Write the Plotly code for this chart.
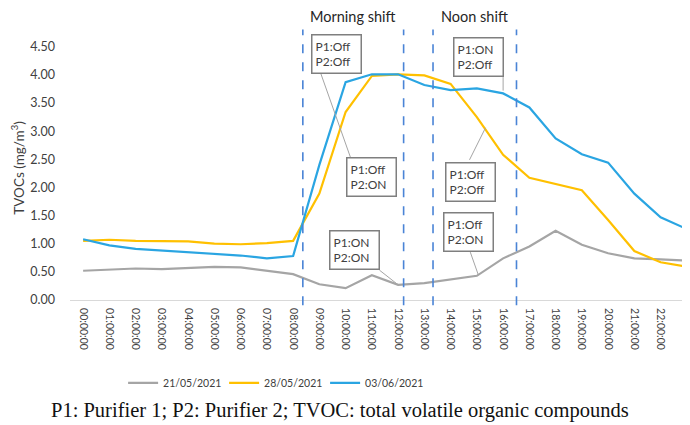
import plotly.graph_objects as go

# --- data ---
hours = [f"{h:02d}:00:00" for h in range(24)]

tvoc_2105 = [0.52, 0.54, 0.56, 0.55, 0.57, 0.59, 0.58, 0.52, 0.46, 0.28, 0.21, 0.44,
             0.27, 0.30, 0.37, 0.43, 0.74, 0.95, 1.23, 0.98, 0.83, 0.74, 0.72, 0.70]
tvoc_2805 = [1.05, 1.07, 1.05, 1.04, 1.04, 1.00, 0.99, 1.01, 1.05, 1.89, 3.34, 3.98,
             4.01, 3.99, 3.84, 3.25, 2.58, 2.17, 2.06, 1.95, 1.42, 0.87, 0.67, 0.59]
tvoc_0306 = [1.08, 0.97, 0.91, 0.88, 0.85, 0.82, 0.79, 0.74, 0.78, 2.40, 3.87, 4.01,
             4.01, 3.82, 3.73, 3.76, 3.67, 3.42, 2.87, 2.59, 2.44, 1.89, 1.47, 1.26]

series_names = ["21/05/2021", "28/05/2021", "03/06/2021"]
series_values = [tvoc_2105, tvoc_2805, tvoc_0306]
series_colors = ["#A5A5A5", "#FFC000", "#2AA5E2"]

# shift boundaries (hour position on the axis)
shift_lines = [8.37, 12.21, 13.33, 16.51]
shift_labels = [("Morning shift", 10.29), ("Noon shift", 14.92)]

# callout boxes: text, x, y
callouts = [
    ("P1:Off<br>P2:Off", 9.67, 4.37),
    ("P1:Off<br>P2:ON", 11.0, 2.18),
    ("P1:ON<br>P2:ON", 10.32, 0.88),
    ("P1:ON<br>P2:Off", 15.06, 4.31),
    ("P1:Off<br>P2:Off", 14.74, 2.10),
    ("P1:Off<br>P2:ON", 14.70, 1.20),
]
# leader lines: x0, y0, x1, y1
leaders = [
    (9.05, 4.03, 10.18, 2.54),
    (11.29, 0.53, 12.0, 0.27),
    (16.0, 3.96, 16.0, 3.72),
    (14.72, 2.49, 15.33, 3.06),
    (14.75, 0.85, 15.06, 0.44),
]

FONT = "Lato, sans-serif"
TEXT = "#404040"

fig = go.Figure()

for name, vals, col in zip(series_names, series_values, series_colors):
    fig.add_trace(go.Scatter(
        x=list(range(24)), y=vals, name=name, mode="lines",
        line=dict(color=col, width=2.2),
    ))

for x in shift_lines:
    fig.add_shape(type="line", xref="x", yref="paper", x0=x, x1=x, y0=-0.02, y1=1.025,
                  line=dict(color="#4A84D6", width=1.6, dash="dash"))

for x0, y0, x1, y1 in leaders:
    fig.add_shape(type="line", xref="x", yref="y", x0=x0, y0=y0, x1=x1, y1=y1,
                  line=dict(color="#A5A5A5", width=1))

for txt, x in shift_labels:
    fig.add_annotation(text=txt, x=x, xref="x", y=1.072, yref="paper", yanchor="middle",
                       showarrow=False, font=dict(family=FONT, size=14.5, color="#262626"))

for txt, x, y in callouts:
    fig.add_annotation(text=txt, x=x, y=y, xref="x", yref="y", showarrow=False,
                       align="left", width=42, height=31, borderpad=3,
                       bgcolor="white", bordercolor="#7F7F7F", borderwidth=1.5,
                       font=dict(family=FONT, size=12, color=TEXT))

fig.add_annotation(text="P1: Purifier 1; P2: Purifier 2; TVOC: total volatile organic compounds",
                   x=0.435, y=-0.42, xref="paper", yref="paper", yanchor="middle",
                   showarrow=False,
                   font=dict(family="Liberation Serif, serif", size=20.5, color="#111111"))

# page body adds ~8px offset, so figure is sized to fit the window
fig.update_layout(
    width=682, height=417,
    margin=dict(l=62, r=0, t=28, b=125, autoexpand=False),
    paper_bgcolor="white", plot_bgcolor="white",
    font=dict(family=FONT, color=TEXT, size=12),
    legend=dict(orientation="h", x=0.33, xanchor="center", y=-0.314, yanchor="middle",
                font=dict(size=10.5, color=TEXT), itemwidth=30,
                entrywidth=56, entrywidthmode="pixels"),
    xaxis=dict(
        tickvals=list(range(24)), ticktext=hours, tickangle=90,
        range=[-0.5, 23.12], showgrid=False, zeroline=False, automargin=False,
        showline=True, linecolor="#D9D9D9", linewidth=1,
        ticklabeloverflow="allow", ticklabelstandoff=5,
        tickfont=dict(size=10.5, color=TEXT),
    ),
    yaxis=dict(
        range=[0, 4.69], dtick=0.5, tickformat=".2f", showgrid=False, zeroline=False,
        automargin=False,
        ticklabelstandoff=14, tickfont=dict(size=12.5, color=TEXT),
        title=dict(text="TVOCs (mg/m<sup>3</sup>)", font=dict(size=13.5, color=TEXT), standoff=2),
    ),
)

fig.write_html("out.html")
